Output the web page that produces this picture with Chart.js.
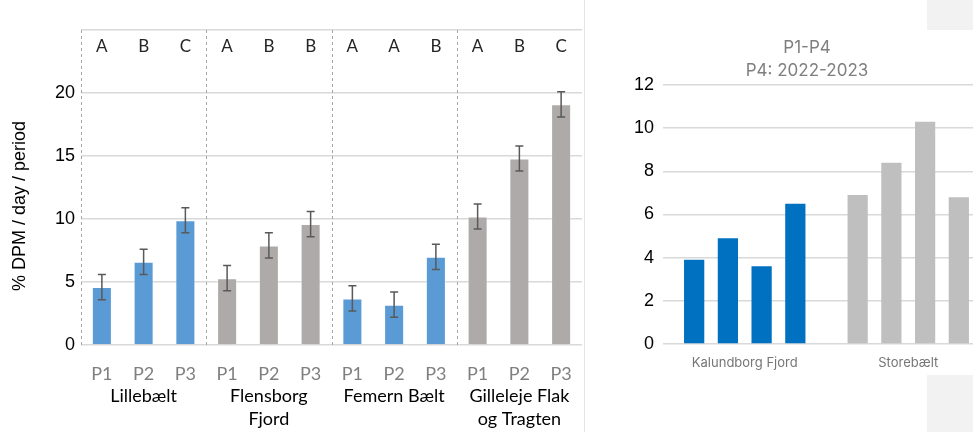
<!DOCTYPE html>
<html>
<head>
<meta charset="utf-8">
<script src="https://cdn.jsdelivr.net/npm/chart.js@4"></script>
<style>
  html, body { margin: 0; padding: 0; background: #fff; overflow: hidden; }
  #wrap { position: relative; width: 973px; height: 432px; overflow: hidden; }
  #leftBox { position: absolute; left: 0; top: 0; width: 584px; height: 432px; border-right: 1px solid #e4e4e4; }
  #rightBox { position: absolute; left: 600px; top: 0; width: 373px; height: 432px; overflow: hidden; }
  .blk { position: absolute; background: #f2f2f2; }
</style>
</head>
<body>
<div id="wrap">
  <div id="leftBox"><canvas id="leftChart" width="584" height="432"></canvas></div>
  <div id="rightBox"><canvas id="rightChart" width="390" height="432"></canvas></div>
  <div class="blk" style="left:927px;top:0;width:46px;height:30px"></div>
  <div class="blk" style="left:927px;top:375px;width:46px;height:57px"></div>
</div>
<script>
// venstre figur: perioder pr. område
var periods = ['P1', 'P2', 'P3', 'P1', 'P2', 'P3', 'P1', 'P2', 'P3', 'P1', 'P2', 'P3'];
var areas = [['Lillebælt'], ['Flensborg', 'Fjord'], ['Femern Bælt'], ['Gilleleje Flak', 'og Tragten']];
var dpmValues = [4.6, 6.6, 9.9, 5.3, 7.9, 9.6, 3.7, 3.2, 7.0, 10.2, 14.8, 19.1];
var dpmErrors = [1.0, 1.0, 1.0, 1.0, 1.0, 1.0, 1.0, 1.0, 1.0, 1.0, 1.0, 1.0];
var sigLetters = ['A', 'B', 'C', 'A', 'B', 'B', 'A', 'A', 'B', 'A', 'B', 'C'];
var yTicksLeft = [0, 5, 10, 15, 20];

// højre figur: P1-P4
var areas2 = ['Kalundborg Fjord', 'Storebælt'];
var p1 = [3.9, 6.9];
var p2 = [4.9, 8.4];
var p3 = [3.6, 10.3];
var p4 = [6.5, 6.8];

var blue = '#5b9bd5', grey = '#aeaaaa';
var barColors = [];
for (var i = 0; i < periods.length; i++) {
  var g = Math.floor(i / 3);
  barColors.push(g % 2 == 0 ? blue : grey);
}

// fejlbjælker, bogstaver, skillelinjer og områdenavne
var leftExtras = {
  id: 'leftExtras',
  afterDatasetsDraw: function(chart) {
    var ctx = chart.ctx, x = chart.scales.x, y = chart.scales.y, area = chart.chartArea;
    ctx.save();
    // stiplede skillelinjer
    ctx.strokeStyle = '#a6a6a6';
    ctx.lineWidth = 1;
    ctx.setLineDash([3, 3]);
    for (var g = 0; g < areas.length; g++) {
      var px = Math.round(x.getPixelForValue(g * 3 - 0.5)) + 0.5;
      if (g == 0) px = Math.round(area.left) + 0.5;
      ctx.beginPath();
      ctx.moveTo(px, area.top);
      ctx.lineTo(px, area.bottom);
      ctx.stroke();
    }
    ctx.setLineDash([]);
    // fejlbjælker
    ctx.strokeStyle = '#595959';
    ctx.lineWidth = 1.5;
    for (var i = 0; i < dpmValues.length; i++) {
      var cx = x.getPixelForValue(i);
      var top = y.getPixelForValue(dpmValues[i] + dpmErrors[i]);
      var bot = y.getPixelForValue(dpmValues[i] - dpmErrors[i]);
      ctx.beginPath();
      ctx.moveTo(cx, top); ctx.lineTo(cx, bot);
      ctx.moveTo(cx - 4, top); ctx.lineTo(cx + 4, top);
      ctx.moveTo(cx - 4, bot); ctx.lineTo(cx + 4, bot);
      ctx.stroke();
    }
    // bogstaver
    ctx.fillStyle = '#262626';
    ctx.font = '17px Lato';
    ctx.textAlign = 'center';
    ctx.textBaseline = 'middle';
    for (var i = 0; i < sigLetters.length; i++) {
      ctx.fillText(sigLetters[i], x.getPixelForValue(i), 47);
    }
    // områdenavne
    ctx.fillStyle = '#000';
    ctx.font = '18px Lato';
    for (var g = 0; g < areas.length; g++) {
      var mid = x.getPixelForValue(g * 3 + 1);
      for (var l = 0; l < areas[g].length; l++) {
        ctx.fillText(areas[g][l], mid, 396 + l * 23);
      }
    }
    // y-aksetitel
    ctx.translate(20, 206);
    ctx.rotate(-Math.PI / 2);
    ctx.font = '18px "Liberation Sans"';
    ctx.fillText('% DPM / day / period', 0, 0);
    ctx.restore();
  }
};

new Chart(document.getElementById('leftChart'), {
  type: 'bar',
  data: {
    labels: periods,
    datasets: [{
      data: dpmValues,
      backgroundColor: barColors,
      borderColor: 'rgba(255,255,255,0.35)',
      borderWidth: 1,
      barPercentage: 0.48,
      categoryPercentage: 1.0
    }]
  },
  options: {
    responsive: false,
    animation: false,
    layout: { padding: { top: 30, right: 2, left: 0, bottom: 0 } },
    plugins: { legend: { display: false }, tooltip: { enabled: false } },
    scales: {
      x: {
        grid: { display: false },
        border: { display: false },
        ticks: { color: '#7f7f7f', font: { family: 'Lato', size: 18 }, padding: 10, maxRotation: 0 },
        afterFit: function(s) { s.height = 87; }
      },
      y: {
        min: 0, max: 25,
        afterBuildTicks: function(s) { s.ticks = [0, 5, 10, 15, 20, 25].map(function(v) { return { value: v }; }); },
        grid: { color: '#d9d9d9', lineWidth: 1.5, drawTicks: false },
        border: { display: false },
        ticks: {
          color: '#000', font: { family: 'Liberation Sans', size: 18 }, padding: 6,
          callback: function(v) { return yTicksLeft.indexOf(v) >= 0 ? v : ''; }
        },
        afterFit: function(s) { s.width = 81; }
      }
    }
  },
  plugins: [leftExtras]
});

var blue2 = '#0070c0', grey2 = '#bfbfbf';
var rightTitle = {
  id: 'rightTitle',
  afterDraw: function(chart) {
    var ctx = chart.ctx;
    ctx.save();
    ctx.fillStyle = '#7f7f7f';
    ctx.font = '17px Inter';
    ctx.textAlign = 'center';
    ctx.textBaseline = 'middle';
    ctx.fillText('P1-P4', 207, 48);
    ctx.fillText('P4: 2022-2023', 207, 71);
    ctx.restore();
  }
};

function ds(vals) {
  return {
    data: vals,
    backgroundColor: [blue2, grey2],
    barPercentage: 0.6,
    categoryPercentage: 0.825
  };
}

new Chart(document.getElementById('rightChart'), {
  type: 'bar',
  data: {
    labels: areas2,
    datasets: [ds(p1), ds(p2), ds(p3), ds(p4)]
  },
  options: {
    responsive: false,
    animation: false,
    layout: { padding: { top: 85, right: 0, left: 0, bottom: 0 } },
    plugins: { legend: { display: false }, tooltip: { enabled: false } },
    scales: {
      x: {
        grid: { display: false },
        border: { display: false },
        ticks: { color: '#767676', font: { family: 'Inter', size: 13 }, padding: 3 },
        afterFit: function(s) { s.height = 88; }
      },
      y: {
        min: 0, max: 12,
        ticks: { stepSize: 2, color: '#000', font: { family: 'Liberation Sans', size: 18 }, padding: 9 },
        grid: { color: '#d9d9d9', lineWidth: 1.5, drawTicks: false },
        border: { display: false },
        afterFit: function(s) { s.width = 63; }
      }
    }
  },
  plugins: [rightTitle]
});
</script>
</body>
</html>
